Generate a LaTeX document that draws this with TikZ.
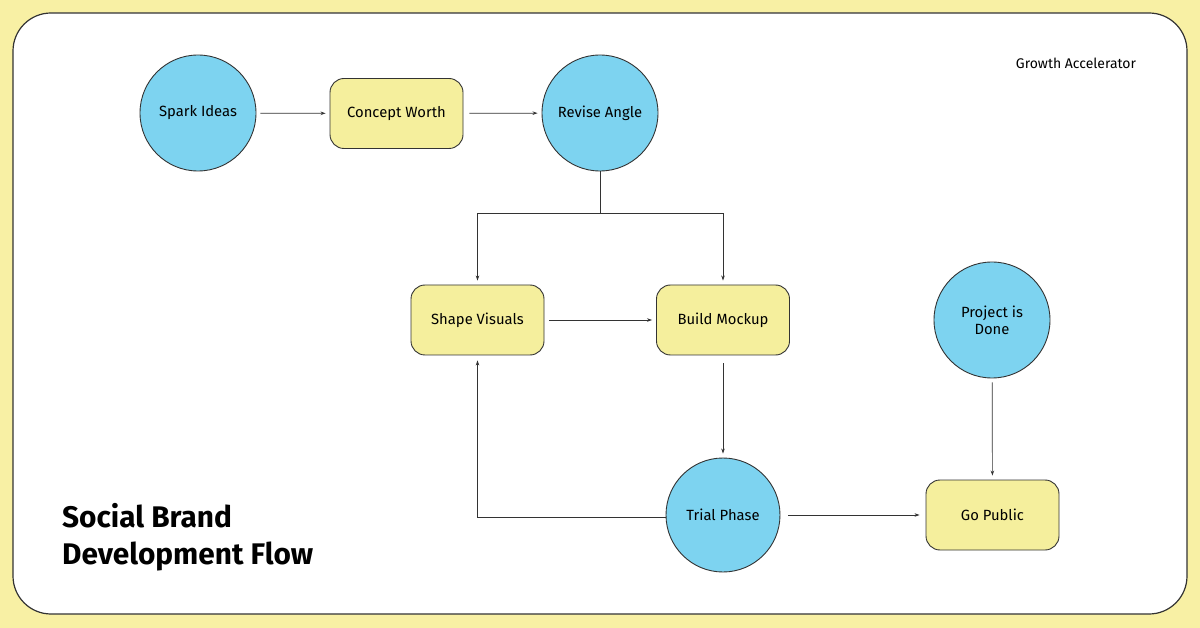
\documentclass[tikz,border=0pt]{standalone}
\usepackage{fontspec}
\setmainfont{Fira Sans}
\usetikzlibrary{arrows.meta}
\definecolor{bgyellow}{HTML}{F8F0A4}
\definecolor{boxyellow}{HTML}{F5EF9D}
\definecolor{circblue}{HTML}{7DD3F0}
\definecolor{edge}{HTML}{333333}
\tikzset{
  circ/.style={circle, draw=edge, line width=0.9pt, fill=circblue, minimum size=116pt, inner sep=0pt, align=center, font=\fontsize{14.8}{17}\selectfont},
  rbox/.style={rectangle, rounded corners=14pt, draw=edge, line width=0.9pt, fill=boxyellow, minimum width=133pt, minimum height=70pt, inner sep=0pt, align=center, font=\fontsize{14.8}{17}\selectfont},
  conn/.style={draw=edge, line width=0.7pt, -{Stealth[length=5pt,width=3.5pt]}},
  seg/.style={draw=edge, line width=0.7pt}
}
\begin{document}
\begin{tikzpicture}[x=1pt,y=-1pt]
\fill[bgyellow] (0,0) rectangle (1200,628);
\useasboundingbox (0,0) rectangle (1200,628);
\draw[edge, line width=1.2pt, fill=white, rounded corners=38pt] (13,13) rectangle (1187,614);

\node[circ] (spark) at (198,113) {Spark Ideas};
\node[rbox] (concept) at (396.5,113.5) {Concept Worth};
\node[circ] (revise) at (600,113) {Revise Angle};
\node[rbox] (shape) at (477.5,320) {Shape Visuals};
\node[rbox] (build) at (723,320) {Build Mockup};
\node[circ] (done) at (992,320) {Project is\\Done};
\node[circ, minimum size=114pt] (trial) at (723,515) {Trial Phase};
\node[rbox] (public) at (992.5,515) {Go Public};

\node[anchor=center, font=\fontsize{14}{16}\selectfont] (growth) at (1076,63) {Growth Accelerator};
\node[anchor=north west, align=left, inner sep=0pt, font=\fontsize{29.8}{37}\bfseries\selectfont] (title) at (62,503) {Social Brand\\Development Flow};

\coordinate (split) at (600,213);
\coordinate (trialleft) at (666,517);
\draw[conn, shorten <=4pt, shorten >=4pt] (spark) -- (concept);
\draw[conn, shorten <=6pt, shorten >=4pt] (concept) -- (revise);
\draw[seg] (revise.south) -- (split);
\draw[conn, shorten >=4pt] (split) -| (shape.north);
\draw[conn, shorten >=4pt] (split) -| (build.north);
\draw[conn, shorten <=5pt, shorten >=4pt] (shape) -- (build);
\draw[conn, shorten <=8pt, shorten >=4pt] (build) -- (trial);
\draw[conn, shorten >=5pt] (trialleft) -| (shape.south);
\draw[conn, shorten <=8pt, shorten >=6pt] (trial) -- (public);
\draw[conn, shorten <=4pt, shorten >=4pt] (done) -- (public);
\end{tikzpicture}
\end{document}
